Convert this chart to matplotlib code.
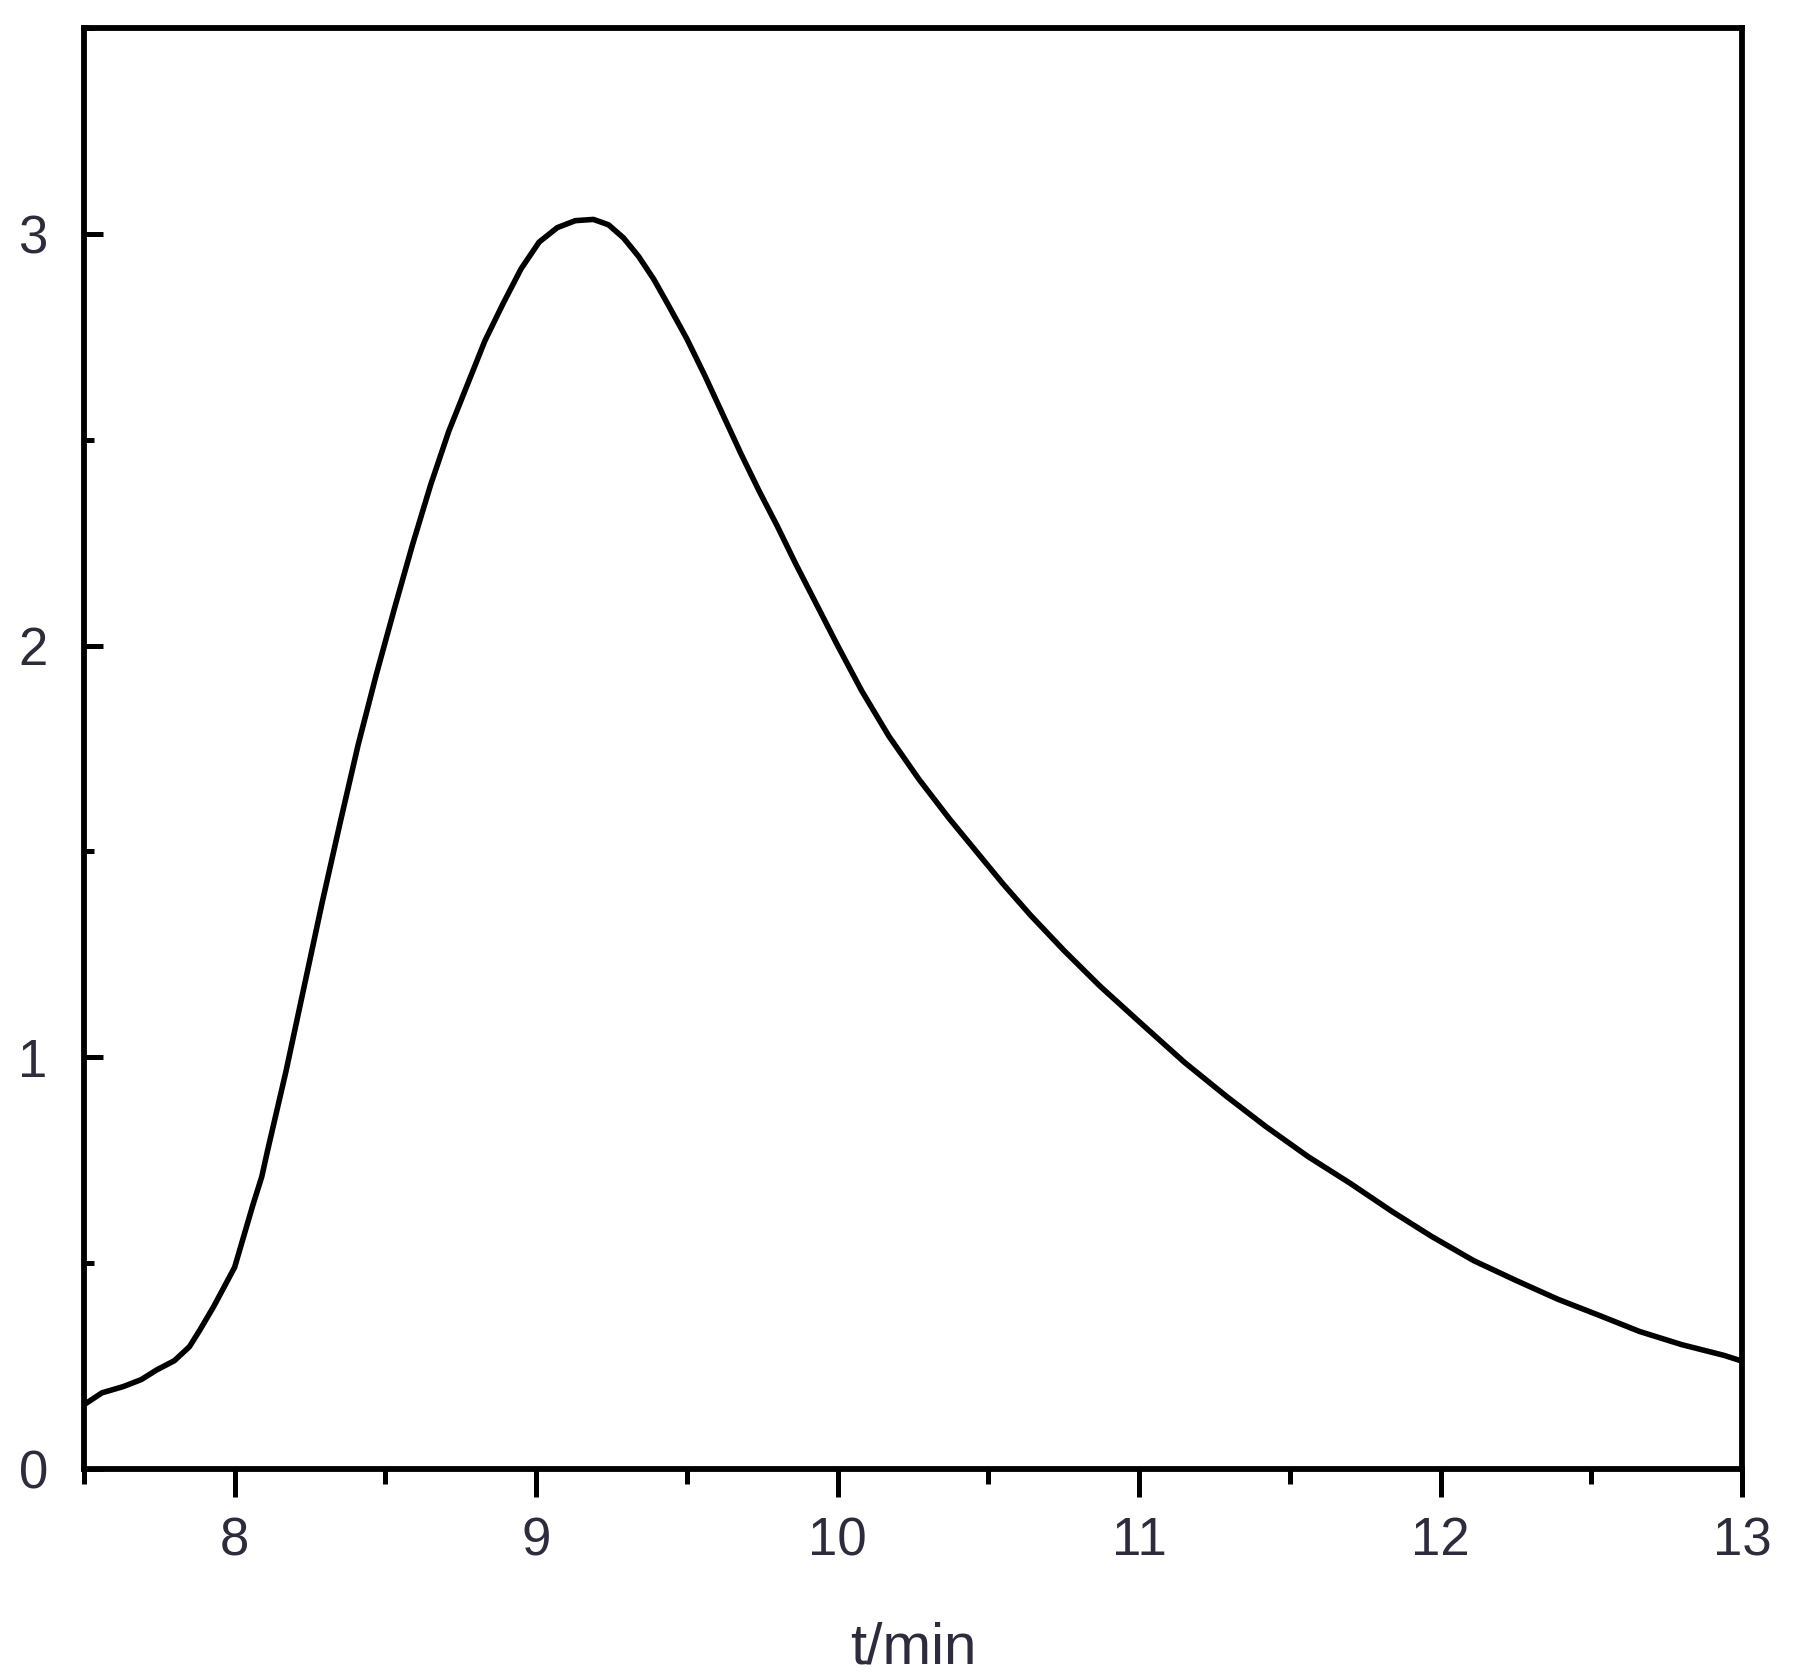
import matplotlib
matplotlib.use('Agg')
from matplotlib import pyplot as plt
from matplotlib.ticker import MultipleLocator

# ── Data ──────────────────────────────────────────────────────────────────────
t_min = [7.50, 7.56, 7.63, 7.69, 7.74, 7.80, 7.85, 7.885, 7.93, 7.96,
         8.00, 8.03, 8.06, 8.09, 8.11, 8.17, 8.23, 8.29, 8.35, 8.41,
         8.47, 8.53, 8.59, 8.65, 8.71, 8.77, 8.83, 8.89, 8.95, 9.01,
         9.07, 9.13, 9.19, 9.24, 9.29, 9.34, 9.39, 9.44, 9.50, 9.56,
         9.62, 9.68, 9.74, 9.80, 9.86, 9.93, 10.00, 10.08, 10.17, 10.27,
         10.37, 10.46, 10.55, 10.64, 10.75, 10.87, 11.01, 11.15, 11.29, 11.42,
         11.56, 11.70, 11.84, 11.97, 12.11, 12.25, 12.39, 12.53, 12.66, 12.80,
         12.94, 13.00]
signal = [0.156, 0.185, 0.200, 0.217, 0.240, 0.263, 0.297, 0.338, 0.394, 0.435,
          0.490, 0.565, 0.640, 0.710, 0.776, 0.965, 1.170, 1.375, 1.570, 1.760,
          1.930, 2.090, 2.245, 2.390, 2.520, 2.630, 2.740, 2.830, 2.915, 2.980,
          3.015, 3.032, 3.035, 3.022, 2.990, 2.945, 2.890, 2.825, 2.745, 2.655,
          2.560, 2.465, 2.375, 2.290, 2.200, 2.100, 2.000, 1.890, 1.780, 1.675,
          1.580, 1.500, 1.420, 1.345, 1.260, 1.173, 1.080, 0.988, 0.905, 0.832,
          0.759, 0.694, 0.625, 0.565, 0.506, 0.458, 0.412, 0.372, 0.334, 0.302,
          0.276, 0.262]

x_ticks = [8, 9, 10, 11, 12, 13]
y_ticks = [0, 1, 2, 3]
x_label = 't/min'

TICK_FONT = ['Liberation Sans Narrow', 'Liberation Sans', 'DejaVu Sans']
LABEL_FONT = ['Liberation Sans', 'DejaVu Sans']
TEXT_COLOR = '#2c2c3c'

# ── Plot ──────────────────────────────────────────────────────────────────────
fig = plt.figure(figsize=(17.97, 16.75), dpi=100)
ax = fig.add_axes([0.0467, 0.123, 0.9227, 0.8603])

ax.plot(t_min, signal, color='black', linewidth=4.0)

ax.set_xlim(7.5, 13)
ax.set_ylim(0, 3.5)

ax.set_xticks(x_ticks)
ax.set_yticks(y_ticks)
ax.xaxis.set_minor_locator(MultipleLocator(0.5))
ax.yaxis.set_minor_locator(MultipleLocator(0.5))

for s in ax.spines.values():
    s.set_linewidth(4.2)
    s.set_color('black')

ax.tick_params(axis='x', which='major', direction='out', length=20, width=3.6,
               pad=14, top=False)
ax.tick_params(axis='x', which='minor', direction='out', length=11, width=3.6,
               top=False)
ax.tick_params(axis='y', which='major', direction='in', length=14, width=3.6,
               pad=26, right=False)
ax.tick_params(axis='y', which='minor', direction='in', length=7, width=3.6,
               right=False)

for lab in ax.get_xticklabels() + ax.get_yticklabels():
    lab.set_fontfamily(TICK_FONT)
    lab.set_fontsize(38)
    lab.set_color(TEXT_COLOR)

ax.set_xlabel(x_label, family=LABEL_FONT, fontsize=42, color=TEXT_COLOR,
              labelpad=40)

plt.savefig('out.png', dpi=100)
